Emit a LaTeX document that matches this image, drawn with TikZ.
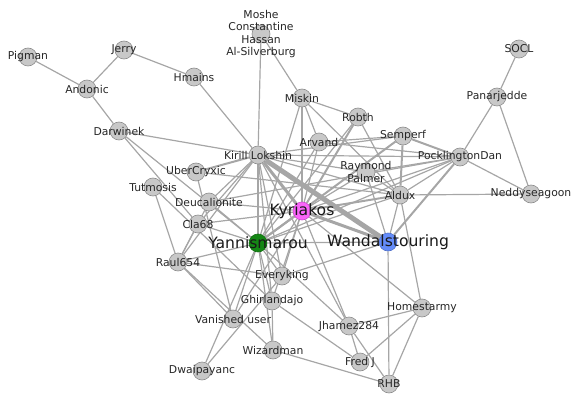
\documentclass[tikz,border=0pt]{standalone}
\usepackage{fontspec}
\setmainfont{DejaVu Sans}
\usepackage{tikz}
\usetikzlibrary{arrows.meta,calc,backgrounds}
\definecolor{kyrcol}{RGB}{250,100,250}
\definecolor{yancol}{RGB}{20,135,20}
\definecolor{wancol}{RGB}{100,140,250}

\begin{document}
\begin{tikzpicture}[x=1pt,y=-1pt]

\useasboundingbox (0,0) rectangle (572,393);

\begin{scope}[every node/.style={circle,draw=gray!90,fill=gray!43,minimum size=18pt,inner sep=0,line width=.6pt},
  lbl/.style={label={[font=\fontsize{10.8}{12.2}\selectfont,text=black!85,align=center]center:#1}},
  big/.style={label={[font=\fontsize{15.6}{17}\selectfont,text=black!90]center:#1}},
  arc/.style={draw=gray!70,line width=1.2pt},
  arc2/.style={draw=gray!70,line width=2pt},
  arc3/.style={draw=gray!70,line width=3pt},
  arc5/.style={draw=gray!70,line width=5pt}]
% Nodes
\node[lbl=Pigman] (pig) at (28,57) {};
\node[lbl=Jerry] (jer) at (124,50) {};
\node[lbl=Andonic] (and) at (87,89) {};
\node[lbl=Hmains] (hma) at (194,77) {};
\node[lbl={Moshe\\Constantine\\Hassan\\Al-Silverburg}] (mos) at (261,34) {};
\node[lbl=Darwinek] (dar) at (119,131) {};
\node[lbl=Kirill Lokshin] (kir) at (258,155) {};
\node[lbl=UberCryxic] (ube) at (196,172) {};
\node[lbl=Tutmosis] (tut) at (153,187) {};
\node[lbl=Miskin] (mis) at (302,98) {};
\node[lbl=Robth] (rob) at (358,117) {};
\node[lbl=Arvand] (arv) at (319,142) {};
\node[lbl=Semperf] (sem) at (403,136) {};
\node[lbl=Panarjedde] (pan) at (497,97) {};
\node[lbl=SOCL] (soc) at (519,49) {};
\node[lbl=PocklingtonDan] (poc) at (460,157) {};
\node[lbl={Raymond\\Palmer}] (ray) at (366,172) {};
\node[lbl=Aldux] (ald) at (400,195) {};
\node[lbl=Neddyseagoon] (ned) at (531,194) {};
\node[lbl=Deucalionite] (deu) at (209,202) {};
\node[lbl=Cla68] (cla) at (198,224) {};
\node[lbl=Raul654] (rau) at (178,262) {};
\node[big=Kyriakos,fill=kyrcol,draw=kyrcol!80!black] (kyr) at (302,211) {};
\node[big=Yannismarou,fill=yancol,draw=yancol!80!black] (yan) at (258,243) {};
\node[big=Wandalstouring,fill=wancol,draw=wancol!80!black] (wan) at (388,242) {};
\node[lbl=Everyking] (eve) at (282,276) {};
\node[lbl=Ghirlandajo] (ghi) at (272,301) {};
\node[lbl=Vanished user] (van) at (233,319) {};
\node[lbl=Wizardman] (wiz) at (273,350) {};
\node[lbl=Jhamez284] (jha) at (349,326) {};
\node[lbl=Fred J] (fre) at (360,362) {};
\node[lbl=RHB] (rhb) at (389,384) {};
\node[lbl=Homestarmy] (hom) at (422,308) {};
\node[lbl=Dwaipayanc] (dwa) at (202,371) {};

%arcs
\begin{scope}[on background layer]
\path (pig) edge[arc] (and);
\path (and) edge[arc] (jer);
\path (and) edge[arc] (dar);
\path (jer) edge[arc] (hma);
\path (hma) edge[arc] (kir);
\path (mos) edge[arc] (kir);
\path (mos) edge[arc] (mis);
\path (dar) edge[arc] (kir);
\path (dar) edge[arc] (cla);
\path (dar) edge[arc] (yan);
\path (mis) edge[arc] (rob);
\path (mis) edge[arc] (arv);
\path (mis) edge[arc] (kyr);
\path (mis) edge[arc] (yan);
\path (mis) edge[arc] (ald);
\path (rob) edge[arc2] (kyr);
\path (rob) edge[arc] (yan);
\path (rob) edge[arc] (ald);
\path (arv) edge[arc] (yan);
\path (arv) edge[arc] (kyr);
\path (arv) edge[arc] (sem);
\path (arv) edge[arc] (poc);
\path (sem) edge[arc2] (poc);
\path (sem) edge[arc2] (ald);
\path (sem) edge[arc] (kir);
\path (sem) edge[arc2] (yan);
\path (pan) edge[arc] (soc);
\path (pan) edge[arc] (poc);
\path (pan) edge[arc] (ned);
\path (poc) edge[arc] (ned);
\path (poc) edge[arc] (kir);
\path (poc) edge[arc] (kyr);
\path (poc) edge[arc] (yan);
\path (poc) edge[arc2] (wan);
\path (poc) edge[arc] (ald);
\path (poc) edge[arc] (ray);
\path (poc) edge[arc] (deu);
\path (ned) edge[arc] (ald);
\path (kir) edge[arc5] (wan);
\path (kir) edge[arc3] (kyr);
\path (kir) edge[arc2] (yan);
\path (kir) edge[arc2] (ube);
\path (kir) edge[arc] (deu);
\path (kir) edge[arc] (cla);
\path (kir) edge[arc] (rau);
\path (kir) edge[arc] (eve);
\path (kir) edge[arc] (ghi);
\path (kir) edge[arc] (ald);
\path (kir) edge[arc] (ray);
\path (kir) edge[arc] (jha);
\path (ube) edge[arc] (ald);
\path (ube) edge[arc] (van);
\path (tut) edge[arc] (rau);
\path (tut) edge[arc] (ghi);
\path (deu) edge[arc] (kyr);
\path (deu) edge[arc] (yan);
\path (deu) edge[arc] (rau);
\path (cla) edge[arc] (yan);
\path (cla) edge[arc] (kyr);
\path (cla) edge[arc] (rau);
\path (rau) edge[arc] (yan);
\path (rau) edge[arc] (eve);
\path (rau) edge[arc] (van);
\path (rau) edge[arc] (wiz);
\path (yan) edge[arc2] (kyr);
\path (yan) edge[arc] (wan);
\path (yan) edge[arc] (eve);
\path (yan) edge[arc] (ghi);
\path (yan) edge[arc] (van);
\path (yan) edge[arc] (wiz);
\path (yan) edge[arc] (dwa);
\path (yan) edge[arc] (jha);
\path (yan) edge[arc] (ald);
\path (kyr) edge[arc3] (wan);
\path (kyr) edge[arc2] (ald);
\path (kyr) edge[arc] (ray);
\path (kyr) edge[arc] (jha);
\path (kyr) edge[arc] (ghi);
\path (kyr) edge[arc] (eve);
\path (kyr) edge[arc] (van);
\path (kyr) edge[arc] (hom);
\path (wan) edge[arc] (ald);
\path (wan) edge[arc] (rhb);
\path (wan) edge[arc] (eve);
\path (wan) edge[arc] (ray);
\path (ald) edge[arc] (hom);
\path (ald) edge[arc] (ray);
\path (hom) edge[arc] (jha);
\path (hom) edge[arc] (fre);
\path (hom) edge[arc] (rhb);
\path (ghi) edge[arc] (wiz);
\path (ghi) edge[arc] (fre);
\path (wiz) edge[arc] (rhb);
\path (dwa) edge[arc] (eve);
\path (jha) edge[arc] (fre);
\path (jha) edge[arc] (rhb);
\end{scope}

\end{scope}

\end{tikzpicture}
\end{document}
